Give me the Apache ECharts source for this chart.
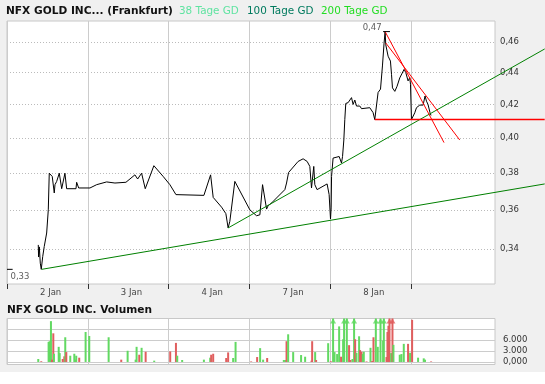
<!DOCTYPE html>
<html><head><meta charset="utf-8">
<script src="https://cdn.jsdelivr.net/npm/echarts@6/dist/echarts.min.js"></script>
<style>html,body{margin:0;padding:0;background:#fff}#c{width:545px;height:384px}</style>
</head><body><div id="c"></div>
<script>
// ---- data ----
const chartTitle = 'NFX GOLD INC... (Frankfurt)';
const legendNames = ['38 Tage GD', '100 Tage GD', '200 Tage GD'];
const volumeTitle = 'NFX GOLD INC. Volumen';
const dayLabels = ['2 Jan', '3 Jan', '4 Jan', '7 Jan', '8 Jan'];
const dayStarts = [0, 1, 2, 3, 4, 5];
const priceTicks = [0.34, 0.36, 0.38, 0.40, 0.42, 0.44, 0.46];
const volTicks = [0, 3000, 6000, 9000];
const volLabelTicks = [0, 3000, 6000];

// time in trading-day units (0 = start of 2 Jan)
const priceTime = [0.387,0.391,0.400,0.412,0.424,0.442,0.461,0.491,0.511,0.523,0.544,0.560,0.585,0.594,0.615,0.647,0.677,0.717,0.738,0.854,0.862,0.887,1.027,1.110,1.233,1.336,1.472,1.583,1.617,1.666,1.711,1.818,1.933,2.016,2.091,2.437,2.520,2.552,2.656,2.709,2.737,2.758,2.820,3.006,3.089,3.130,3.163,3.179,3.213,3.232,3.274,3.336,3.439,3.460,3.485,3.603,3.665,3.715,3.748,3.769,3.797,3.810,3.838,3.962,3.987,4.004,4.012,4.017,4.036,4.111,4.140,4.153,4.169,4.181,4.193,4.222,4.243,4.264,4.284,4.305,4.326,4.367,4.388,4.490,4.531,4.552,4.593,4.623,4.647,4.667,4.680,4.688,4.717,4.746,4.759,4.771,4.800,4.828,4.861,4.915,4.936,4.964,4.985,4.994,5.006,5.047,5.068,5.109,5.150,5.174,5.192,5.211,5.236,5.248];
const priceValue = [0.342,0.336,0.341,0.333,0.330,0.3362,0.3412,0.348,0.360,0.3798,0.3798,0.378,0.369,0.3735,0.3753,0.3798,0.3713,0.3798,0.3713,0.3713,0.3748,0.3717,0.3717,0.3735,0.375,0.3744,0.3748,0.3789,0.3766,0.3798,0.3713,0.384,0.378,0.3735,0.3681,0.3677,0.3789,0.3666,0.3614,0.358,0.3506,0.354,0.3753,0.360,0.3569,0.3574,0.3735,0.3735,0.3604,0.3622,0.3636,0.3663,0.3708,0.3744,0.3802,0.3864,0.3879,0.3864,0.3836,0.3717,0.3836,0.3735,0.3708,0.3739,0.3681,0.3552,0.361,0.378,0.3883,0.3892,0.3855,0.3892,0.3987,0.4108,0.4206,0.4211,0.4215,0.4242,0.420,0.4227,0.419,0.419,0.4174,0.418,0.415,0.4108,0.4274,0.4295,0.4443,0.4594,0.4672,0.4583,0.4507,0.4475,0.4389,0.4303,0.4281,0.4313,0.4366,0.4421,0.440,0.4347,0.4368,0.4326,0.4108,0.4149,0.418,0.4196,0.4196,0.4252,0.422,0.420,0.4149,0.4133];

// drawn trend lines [time, price]
const greenLowTime = [0.429, 6.655];
const greenLowValue = [0.330, 0.3739];
const greenUpTime = [2.737, 6.655];
const greenUpValue = [0.3506, 0.4555];
const redFlatTime = [4.552, 6.655];
const redFlatValue = [0.4108, 0.4108];
const redDown1Time = [4.680, 5.409];
const redDown1Value = [0.4672, 0.3972];
const redDown2Time = [4.688, 5.604];
const redDown2Value = [0.4595, 0.3987];

// volume: time, amount, direction (1 = up/green, 0 = down/red)
const volTime = [0.387,0.424,0.515,0.528,0.544,0.557,0.573,0.581,0.640,0.652,0.689,0.709,0.721,0.734,0.783,0.833,0.845,0.857,0.894,0.973,1.018,1.258,1.414,1.493,1.592,1.604,1.637,1.666,1.716,1.822,2.020,2.091,2.107,2.168,2.437,2.515,2.527,2.552,2.713,2.737,2.799,2.829,3.022,3.096,3.133,3.170,3.220,3.426,3.443,3.460,3.480,3.542,3.640,3.690,3.769,3.777,3.814,3.826,3.975,4.008,4.036,4.054,4.086,4.111,4.135,4.160,4.172,4.206,4.234,4.252,4.276,4.296,4.309,4.326,4.358,4.370,4.388,4.404,4.416,4.450,4.499,4.519,4.536,4.565,4.589,4.623,4.655,4.664,4.697,4.709,4.721,4.734,4.754,4.771,4.783,4.861,4.882,4.911,4.964,4.989,5.014,5.088,5.158,5.174,5.249];
const volValue = [820,200,5540,5730,11270,640,7910,2270,4180,2450,820,1550,6820,2730,1730,2270,640,1730,1180,8270,7180,6820,640,3090,640,4180,2000,3910,2820,360,2910,5270,1730,550,640,1180,2000,2270,1090,2640,1090,5540,150,1360,3820,640,1090,550,550,5730,7640,2730,1910,1450,360,5730,2730,550,5180,200,14000,2730,2180,9820,1450,6270,14000,14000,4640,550,820,14000,6270,2550,7090,3270,2820,2180,2820,150,3910,270,6820,14000,4180,14000,5910,14000,1360,8270,10000,14000,2450,14000,4730,2000,2180,5000,5000,2550,11640,1180,1000,640,150];
const volUp = [1,0,1,1,1,0,0,1,1,1,0,0,1,0,1,1,1,1,0,1,1,1,0,1,1,1,0,1,0,1,0,0,1,1,1,1,0,0,0,0,1,1,0,0,1,1,0,1,1,0,1,1,1,1,0,0,1,0,1,0,1,1,1,1,0,1,1,1,0,0,1,1,0,1,1,0,0,1,1,0,1,0,0,1,1,1,1,1,0,0,0,0,1,0,1,1,1,1,0,1,0,1,1,1,0];

// ---- chart ----
const X_MIN = 0, X_MAX = 6.04;
const PLOT_W = 488, EXT_W = 538;            // drawing layer for trend lines reaches the page edge
const X_MAX_EXT = X_MAX * EXT_W / PLOT_W;
const Y_MIN = 0.323, Y_MAX = 0.4745;
const VOL_MIN = -700, VOL_MAX = 12000;
const GREEN = '#62d962', RED = '#e05e5e';
const FONT = 'DejaVu Sans';
const pair = (ts, vs) => ts.map((t, i) => [t, vs[i]]);
const fmtPrice = v => v.toFixed(2).replace('.', ',');

const hiVal = Math.max(...priceValue), hiIdx = priceValue.indexOf(hiVal);
const loVal = Math.min(...priceValue);
const hiT = priceTime[hiIdx];

const chart = echarts.init(document.getElementById('c'), null, {renderer: 'canvas'});
const trend = (name, ts, vs, color, width) => ({
  name, type: 'line', xAxisIndex: 2, yAxisIndex: 2, data: pair(ts, vs),
  showSymbol: false, symbol: 'none', clip: false, silent: true, z: 4,
  lineStyle: {color, width: width || 1}
});

chart.setOption({
  animation: false,
  backgroundColor: '#f0f0f0',
  textStyle: {fontFamily: FONT},
  title: [
    {text: chartTitle, left: 6, top: 6, padding: 0, textStyle: {fontFamily: FONT, fontSize: 10.6, fontWeight: 'bold', color: '#111'}},
    {text: legendNames[0], left: 179, top: 6, padding: 0, textStyle: {fontFamily: FONT, fontSize: 10.4, fontWeight: 'normal', color: '#5fe3a1'}},
    {text: legendNames[1], left: 247, top: 6, padding: 0, textStyle: {fontFamily: FONT, fontSize: 10.4, fontWeight: 'normal', color: '#007a5e'}},
    {text: legendNames[2], left: 321, top: 6, padding: 0, textStyle: {fontFamily: FONT, fontSize: 10.4, fontWeight: 'normal', color: '#22dd22'}},
    {text: volumeTitle, left: 7, top: 305, padding: 0, textStyle: {fontFamily: FONT, fontSize: 10.6, fontWeight: 'bold', color: '#111'}}
  ],
  graphic: [{type: 'rect', shape: {x: 0, y: 372, width: 545, height: 12}, style: {fill: '#ffffff'}, silent: true}],
  grid: [
    {left: 7, top: 21, width: PLOT_W, height: 263, show: true, backgroundColor: '#fff', borderColor: '#c8c8c8', borderWidth: 1, containLabel: false, outerBoundsMode: 'none'},
    {left: 7, top: 318.5, width: PLOT_W, height: 46, show: true, backgroundColor: '#fff', borderColor: '#c8c8c8', borderWidth: 1, containLabel: false, outerBoundsMode: 'none'},
    {left: 7, top: 21, width: EXT_W, height: 263, show: false, containLabel: false, outerBoundsMode: 'none'}
  ],
  xAxis: [
    {type: 'value', gridIndex: 0, min: X_MIN, max: X_MAX, position: 'bottom',
     axisLine: {show: false},
     axisTick: {show: true, customValues: dayStarts, length: 5, lineStyle: {color: '#333'}},
     splitLine: {show: true, lineStyle: {color: '#cccccc', width: 1}},
     axisLabel: {show: true, customValues: dayLabels.map((d, i) => i + 0.54), formatter: v => dayLabels[Math.floor(v)] || '', color: '#444', fontSize: 8.5, fontFamily: FONT, margin: 4}},
    {type: 'value', gridIndex: 1, min: X_MIN, max: X_MAX,
     axisLine: {show: false},
     axisTick: {show: false, customValues: dayStarts},
     splitLine: {show: true, lineStyle: {color: '#cccccc', width: 1}},
     axisLabel: {show: false}},
    {type: 'value', gridIndex: 2, min: X_MIN, max: X_MAX_EXT, show: false,
     axisLine: {show: false}, axisTick: {show: false}, splitLine: {show: false}, axisLabel: {show: false}}
  ],
  yAxis: [
    {type: 'log', logBase: 10, gridIndex: 0, min: Y_MIN, max: Y_MAX, position: 'right',
     axisLine: {show: false},
     axisTick: {show: false, customValues: priceTicks},
     splitLine: {show: true, lineStyle: {color: '#bbbbbb', width: 1, type: [1, 2]}},
     axisLabel: {show: true, customValues: priceTicks, formatter: fmtPrice, color: '#333', fontSize: 8.5, fontFamily: FONT, margin: 5}},
    {type: 'value', gridIndex: 1, min: VOL_MIN, max: VOL_MAX, position: 'right',
     axisLine: {show: false},
     axisTick: {show: true, customValues: volTicks, length: 7, lineStyle: {color: '#cccccc'}},
     splitLine: {show: true, lineStyle: {color: '#cccccc', width: 1}},
     axisLabel: {show: true, customValues: volLabelTicks, formatter: v => v === 0 ? '0,000' : (v / 1000).toFixed(3), color: '#333', fontSize: 8.5, fontFamily: FONT, margin: 8}},
    {type: 'log', logBase: 10, gridIndex: 2, min: Y_MIN, max: Y_MAX, show: false,
     axisLine: {show: false}, axisTick: {show: false}, splitLine: {show: false}, axisLabel: {show: false}}
  ],
  series: [
    {name: 'Kurs', type: 'line', xAxisIndex: 0, yAxisIndex: 0, data: pair(priceTime, priceValue),
     showSymbol: false, symbol: 'none', z: 3, lineStyle: {color: '#000', width: 1}},
    trend('Trend unten', greenLowTime, greenLowValue, '#008000'),
    trend('Trend oben', greenUpTime, greenUpValue, '#008000'),
    trend('Unterstützung', redFlatTime, redFlatValue, '#ff0000', 1.5),
    trend('Widerstand 1', redDown1Time, redDown1Value, '#ff0000'),
    trend('Widerstand 2', redDown2Time, redDown2Value, '#ff0000'),
    {name: 'Tief', type: 'line', xAxisIndex: 0, yAxisIndex: 0, data: [[X_MIN, loVal], [X_MIN + 0.07, loVal]],
     showSymbol: false, symbol: 'none', clip: false, z: 5, lineStyle: {color: '#000', width: 1}},
    {name: 'Hoch', type: 'line', xAxisIndex: 0, yAxisIndex: 0, data: [[hiT - 0.025, hiVal], [hiT + 0.06, hiVal]],
     showSymbol: false, symbol: 'none', clip: false, z: 5, lineStyle: {color: '#000', width: 1}},
    {name: 'HochTiefText', type: 'scatter', xAxisIndex: 0, yAxisIndex: 0, symbolSize: 1, clip: false, z: 6,
     itemStyle: {color: 'rgba(0,0,0,0)'},
     data: [
       {value: [X_MIN, loVal], label: {show: true, position: 'right', distance: 3, offset: [0, 7], formatter: fmtPrice(loVal)}},
       {value: [hiT, hiVal], label: {show: true, position: 'left', distance: 3, offset: [0, -4], formatter: fmtPrice(hiVal)}}
     ],
     label: {color: '#333', fontSize: 8.5, fontFamily: FONT}},
    {name: 'Volumen', type: 'bar', xAxisIndex: 1, yAxisIndex: 1, barWidth: 2, clip: true,
     data: volTime.map((t, i) => ({value: [t, volValue[i]], itemStyle: {color: volUp[i] ? GREEN : RED}}))},
    {name: 'Volumen Pfeil', type: 'scatter', xAxisIndex: 1, yAxisIndex: 1, symbol: 'triangle', symbolSize: [6, 5], symbolOffset: [0, 2.5], clip: false, z: 5,
     data: volTime.map((t, i) => ({t, i})).filter(o => volValue[o.i] > VOL_MAX)
       .map(o => ({value: [o.t, VOL_MAX], itemStyle: {color: volUp[o.i] ? GREEN : RED}}))}
  ]
});
</script></body></html>
